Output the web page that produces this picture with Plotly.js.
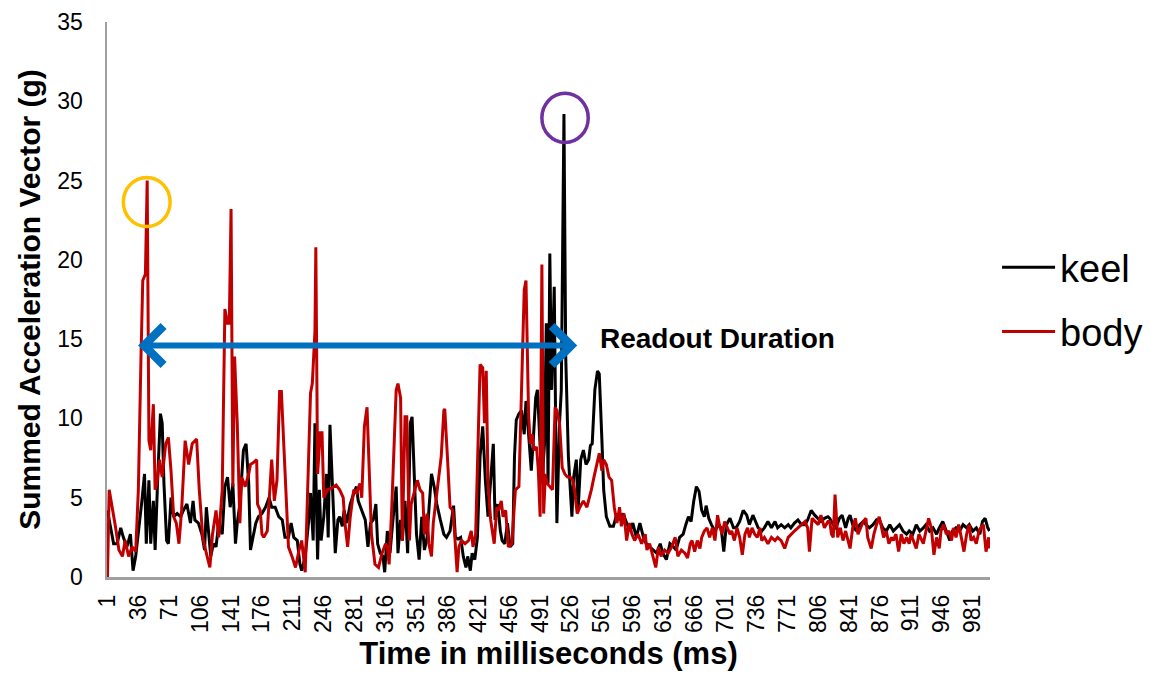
<!DOCTYPE html>
<html>
<head>
<meta charset="utf-8">
<script src="https://cdn.plot.ly/plotly-3.0.1.min.js"></script>
<style>html,body{margin:0;padding:0;background:#fff}#chart{width:1164px;height:679px}</style>
</head>
<body>
<div id="chart"></div>
<script>
// Time (ms) and summed acceleration (g)
const keelX = [1,8,12,16,19,23,27,30,33,36,40,43,45,48,50,53,55,58,61,63,65,68,70,73,76,80,84,87,91,95,98,100,104,108,111,113,116,118,121,124,127,131,134,137,140,143,146,148,151,155,158,161,163,166,169,172,176,180,184,187,191,195,199,202,206,209,212,216,219,221,225,229,231,234,236,237,239,241,243,246,249,251,253,256,259,262,264,267,269,272,276,280,283,285,289,293,296,299,302,305,307,310,313,315,318,321,324,328,330,333,335,338,341,344,346,349,351,354,357,360,363,365,368,371,374,378,382,385,389,393,395,398,401,404,407,409,412,414,417,420,423,426,429,432,434,436,438,440,443,446,448,451,454,457,460,462,464,467,470,473,475,478,481,483,486,488,491,493,496,498,500,502,504,507,509,510,513,515,518,520,523,527,529,532,534,537,540,543,546,548,550,553,556,558,561,563,566,570,574,578,581,585,589,593,596,600,604,608,611,615,619,623,627,630,634,638,642,645,649,653,656,659,662,665,668,671,674,677,679,682,685,689,693,696,699,702,706,710,713,717,721,725,728,732,735,738,742,745,749,753,757,760,764,768,772,775,779,783,787,791,794,798,802,806,809,813,817,819,823,826,830,833,837,840,842,845,849,853,857,860,864,868,872,876,879,883,887,891,894,898,902,906,909,913,917,921,925,928,932,936,940,943,947,951,955,958,962,966,970,974,977,981,985,989,992,995,998,1000];
const keelY = [4.2,2.1,2.1,3.1,2.5,1.9,2.7,0.4,1.3,2.7,4.8,6.5,2.1,6.1,2.1,4.8,1.7,6.3,10.3,9.7,5.9,2.3,2.1,5.0,3.8,4.0,3.8,4.2,4.6,3.4,4.8,3.6,3.4,2.7,1.7,4.4,2.7,1.3,2.1,1.9,3.4,2.7,5.7,6.3,4.4,5.9,2.1,3.4,4.6,8.0,8.4,5.9,1.7,2.5,3.4,3.8,4.0,4.4,5.0,4.4,4.4,3.8,3.6,2.5,2.5,3.4,2.5,2.3,0.8,0.4,1.3,3.6,5.3,2.3,9.7,6.5,1.1,5.5,2.3,3.8,6.5,2.5,9.6,5.5,1.5,3.6,3.8,3.2,4.2,3.4,4.6,5.3,5.7,4.8,4.2,3.6,1.9,3.4,3.6,4.6,2.1,1.5,1.3,0.3,2.9,1.5,3.4,5.7,1.5,3.6,2.3,4.8,1.5,9.7,10.1,5.5,2.7,1.1,3.8,1.7,2.5,4.2,6.5,5.7,4.6,3.6,2.7,2.5,2.9,4.5,2.5,2.4,2.5,1.3,0.6,1.3,0.4,1.5,1.1,2.5,7.6,9.5,6.1,3.8,5.3,6.7,8.4,3.6,4.6,2.9,2.3,2.1,3.4,1.9,2.1,7.6,9.9,10.3,10.5,9.0,11.1,9.0,6.7,8.4,11.3,11.8,8.6,5.9,8.4,16.0,5.9,20.4,11.8,18.3,7.6,3.4,9.7,11.8,29.2,13.9,7.6,3.8,6.3,7.4,4.2,7.4,8.0,7.1,7.4,8.3,8.4,11.8,13.0,12.8,8.6,5.5,3.8,3.2,3.2,4.0,3.6,4.0,3.4,2.9,3.4,2.5,3.4,2.5,2.1,1.9,1.7,1.5,2.1,1.5,1.1,2.1,1.9,1.7,2.5,2.7,3.3,3.8,3.5,4.8,5.7,5.4,4.2,3.8,4.5,3.7,3.3,2.9,3.3,3.1,1.6,3.3,3.7,3.1,3.1,3.5,4.2,3.9,3.3,3.9,3.5,3.1,2.9,3.1,3.5,3.1,3.5,3.1,3.3,3.1,3.3,3.1,3.4,3.6,3.3,3.3,3.6,4.2,3.9,3.7,3.5,3.7,3.8,3.7,3.3,3.1,3.7,3.9,3.1,3.7,3.9,3.3,2.9,3.3,3.5,3.3,3.1,3.3,3.6,3.5,3.1,2.9,3.3,2.9,3.1,3.3,2.9,2.7,2.9,2.7,3.3,2.9,3.1,3.3,2.9,3.1,2.7,3.1,3.5,2.9,2.3,2.9,3.1,2.9,3.3,3.1,3.3,2.9,3.1,2.7,3.5,3.7,3.1,2.9];

const bodyX = [1,3,10,14,18,21,25,29,33,36,39,41,44,46,48,50,53,55,57,60,63,67,70,73,76,79,82,85,89,93,97,102,105,109,113,117,120,124,127,131,134,137,139,141,143,145,148,151,153,157,161,163,166,170,171,174,176,178,182,185,187,190,193,196,198,201,204,206,210,214,218,221,225,228,231,233,236,237,239,242,244,246,250,255,260,264,268,270,273,276,278,280,283,287,289,292,295,297,300,304,308,312,316,318,320,323,326,328,330,333,335,338,340,343,345,349,352,355,358,360,363,365,368,370,373,376,379,382,383,386,389,392,394,397,399,402,406,410,413,415,418,421,423,426,428,430,432,435,439,442,444,447,449,452,455,459,463,467,470,473,475,478,480,482,484,487,489,491,493,495,497,499,502,505,508,510,513,516,519,522,525,528,530,533,536,540,544,547,549,552,555,558,561,563,566,569,572,575,578,581,583,586,589,592,595,598,602,606,610,612,615,619,622,625,628,632,636,640,644,647,651,655,658,661,663,666,669,672,674,677,680,683,686,689,692,694,697,700,703,706,708,711,714,717,720,723,726,728,731,734,737,740,742,745,749,753,757,760,764,768,772,775,779,783,787,791,794,796,799,802,806,809,813,817,819,821,823,825,828,831,834,837,840,842,845,848,851,854,857,860,862,866,869,872,875,877,880,883,886,889,891,894,897,900,903,906,909,911,914,917,920,923,925,928,931,934,937,940,943,945,948,951,954,957,959,962,965,968,971,974,977,979,982,985,988,990,993,996,999,1000];
const bodyY = [0,5.5,3.2,1.7,1.3,2.3,1.3,1.9,1.6,5.5,13.9,18.7,19.1,25.0,8.6,8.0,10.9,5.5,5.9,7.4,6.3,8.4,8.8,6.7,3.8,3.4,2.1,4.2,8.6,7.1,8.4,8.7,5.5,2.5,1.5,0.6,2.7,4.2,2.5,5.5,16.9,16.0,16.0,23.2,5.7,13.9,9.7,3.4,6.3,5.7,6.5,7.1,7.2,7.4,4.6,4.2,2.7,2.5,2.9,5.5,7.4,4.8,6.1,11.7,11.7,8.0,4.4,1.9,1.3,0.6,1.7,2.3,0.3,5.5,11.6,12.2,15.5,20.8,6.5,9.1,9.1,5.0,5.5,5.6,5.8,5.5,5.0,3.4,1.9,3.8,4.8,5.5,5.3,5.9,5.0,9.5,10.7,6.9,2.7,0.8,0.6,1.5,2.1,1.9,0.8,4.4,9.7,11.8,12.2,11.3,2.3,10.1,10.1,2.3,4.6,5.5,6.1,5.5,5.3,2.7,4.0,2.1,1.3,3.4,4.8,5.9,7.6,10.5,10.6,7.6,4.4,4.2,2.9,0.3,1.9,2.3,2.1,2.3,2.9,1.9,2.7,9.0,13.4,13.2,9.7,13.0,5.9,3.6,2.1,4.4,4.2,4.8,3.8,4.2,1.9,2.1,5.5,5.7,11.8,18.1,18.7,10.1,8.4,9.0,8.0,8.2,6.7,3.8,19.7,4.0,6.5,5.9,5.7,5.5,10.7,10.5,9.7,6.9,6.5,6.3,6.3,6.1,5.5,4.0,4.4,4.8,4.4,5.0,5.5,6.3,7.1,7.8,6.7,7.4,7.1,6.3,6.1,4.4,3.4,4.4,3.2,4.0,2.3,3.4,2.7,2.3,2.7,2.1,2.7,1.7,2.1,1.3,0.6,1.9,1.3,1.7,1.5,1.9,2.5,1.3,1.7,1.5,1.2,2.1,2.3,1.6,2.3,1.8,2.5,2.9,3.1,2.5,3.1,2.3,3.9,3.3,2.7,3.5,3.1,2.7,2.9,2.3,3.1,2.5,1.4,2.7,3.1,2.5,3.1,2.7,2.5,3.1,2.3,2.5,2.1,2.5,2.3,2.5,2.3,1.8,2.5,2.7,2.9,3.1,3.3,3.5,3.1,1.6,3.7,3.5,3.3,3.9,3.1,3.5,3.5,2.7,2.5,5.2,2.5,3.1,2.3,2.9,2.1,1.8,3.1,3.7,2.7,3.1,3.5,3.7,2.5,1.8,2.7,3.3,3.8,3.3,2.5,2.9,2.1,2.5,2.3,2.7,1.6,2.7,2.1,2.5,2.1,2.7,2.3,1.8,2.7,2.3,2.1,2.9,3.7,3.1,1.4,2.5,1.8,2.9,3.3,2.7,2.9,2.3,3.1,2.5,3.3,2.5,1.6,2.7,3.3,2.3,2.5,2.1,2.9,3.1,3.3,1.6,2.5,1.8];

const seriesNames = ['keel', 'body'];
const xTickVals = [1,36,71,106,141,176,211,246,281,316,351,386,421,456,491,526,561,596,631,666,701,736,771,806,841,876,911,946,981];
const yTickVals = [0,5,10,15,20,25,30,35];
const xTitle = 'Time in milliseconds (ms)';
const yTitle = 'Summed Acceleration Vector (g)';
const noteText = 'Readout Duration';
// readout duration arrow: start / end (ms) and level (g)
const readoutStart = 34, readoutEnd = 533, readoutLevel = 14.6;
// highlighted peaks: [x0, x1, y0, y1]
const bodyPeakBox = [19, 72, 22.1, 25.2];
const keelPeakBox = [493, 545.5, 27.4, 30.5];

const FONT = 'Liberation Sans, Arial, sans-serif';

const traces = [
  {x: keelX, y: keelY, name: seriesNames[0], type: 'scatter', mode: 'lines',
   line: {color: '#000000', width: 3}, legendgroup: 'a'},
  {x: bodyX, y: bodyY, name: seriesNames[1], type: 'scatter', mode: 'lines',
   line: {color: '#C00000', width: 3}, legendgroup: 'b'}
];

const layout = {
  width: 1164, height: 679,
  margin: {l: 107, r: 174, t: 22, b: 102},
  paper_bgcolor: '#ffffff', plot_bgcolor: '#ffffff',
  font: {family: FONT, color: '#000000'},
  showlegend: true,
  legend: {x: 1.008, xanchor: 'left', y: 0.5, yanchor: 'middle',
           font: {size: 38, family: FONT, color: '#000'}, tracegroupgap: 12,
           itemwidth: 53, bgcolor: 'rgba(0,0,0,0)'},
  xaxis: {
    range: [0.5, 1000.5], tickmode: 'array', tickvals: xTickVals,
    ticktext: xTickVals.map(String), tickangle: -90,
    tickfont: {size: 23, family: FONT, color: '#000'},
    showgrid: false, zeroline: false, showline: true, linecolor: '#A0A0A0', linewidth: 2.5,
    ticks: '', ticklabelstandoff: 6,
    title: {text: '<b>' + xTitle + '</b>', font: {size: 31, family: FONT, color: '#000'}, standoff: 10}
  },
  yaxis: {
    range: [0, 35], tickmode: 'array', tickvals: yTickVals,
    tickfont: {size: 23, family: FONT, color: '#000'},
    showgrid: false, zeroline: false, showline: true, linecolor: '#A0A0A0', linewidth: 2.5,
    ticks: '', ticklabelstandoff: 17,
    title: {text: '<b>' + yTitle + '</b>', font: {size: 30, family: FONT, color: '#000'}, standoff: 8}
  },
  shapes: [
    {type: 'circle', xref: 'x', yref: 'y', x0: bodyPeakBox[0], x1: bodyPeakBox[1], y0: bodyPeakBox[2], y1: bodyPeakBox[3],
     line: {color: '#FFC000', width: 3.5}},
    {type: 'circle', xref: 'x', yref: 'y', x0: keelPeakBox[0], x1: keelPeakBox[1], y0: keelPeakBox[2], y1: keelPeakBox[3],
     line: {color: '#7030A0', width: 3.5}}
  ],
  annotations: [
    {x: readoutEnd, y: readoutLevel, ax: readoutStart, ay: readoutLevel, xref: 'x', yref: 'y', axref: 'x', ayref: 'y',
     text: '', showarrow: true, arrowside: 'end+start', arrowhead: 4, startarrowhead: 4,
     arrowsize: 1.25, startarrowsize: 1.25, arrowwidth: 6, arrowcolor: '#0070C0', standoff: 0, startstandoff: 0},
    {x: 556, y: 15.05, xref: 'x', yref: 'y', xanchor: 'left', yanchor: 'middle', showarrow: false,
     text: '<b>' + noteText + '</b>', font: {size: 28, family: FONT, color: '#000'}}
  ]
};

Plotly.newPlot('chart', traces, layout, {displayModeBar: false, staticPlot: true});
</script>
</body>
</html>
